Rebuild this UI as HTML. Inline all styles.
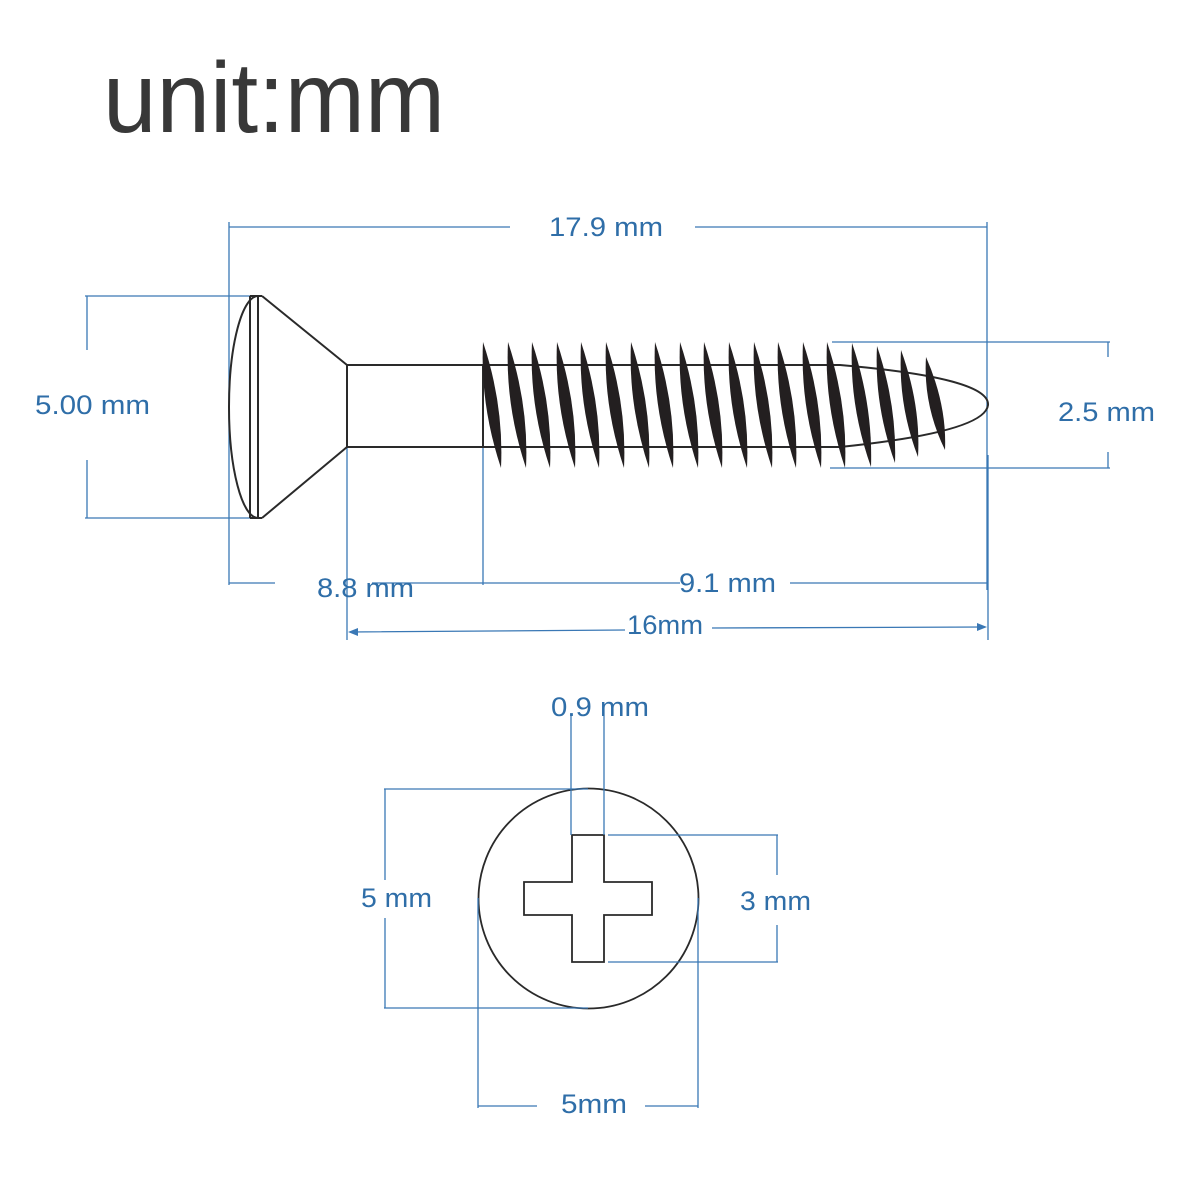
<!DOCTYPE html>
<html><head><meta charset="utf-8"><style>
html,body{margin:0;padding:0;background:#fff;width:1200px;height:1200px;overflow:hidden}
svg{display:block}
.b{stroke:#3a78b5;stroke-width:1.3;fill:none}
.k{stroke:#2a2a2a;stroke-width:2;fill:none}
.t{font-family:"Liberation Sans",sans-serif;font-size:27px;fill:#2f6ea8}
.th{fill:#231f20}
</style></head><body>
<svg width="1200" height="1200" viewBox="0 0 1200 1200" xmlns="http://www.w3.org/2000/svg">
<rect width="1200" height="1200" fill="#fff"/>
<text x="103" y="132" font-family="Liberation Sans, sans-serif" font-size="100" fill="#383838" textLength="342" lengthAdjust="spacingAndGlyphs">unit:mm</text>

<path class="b" d="M229,227 H510 M695,227 H987 M229,222 V585 M987,222 V590"/>
<text class="t" x="549" y="236" textLength="114" lengthAdjust="spacingAndGlyphs">17.9 mm</text>
<path class="b" d="M85,296 H255 M85,518 H255 M87,296 V350 M87,460 V518"/>
<text class="t" x="35" y="414" textLength="115" lengthAdjust="spacingAndGlyphs">5.00 mm</text>
<path class="b" d="M832,342 H1110 M830,468 H1110 M1108,342 V357 M1108,452 V468"/>
<text class="t" x="1058" y="421" textLength="97" lengthAdjust="spacingAndGlyphs">2.5 mm</text>
<path class="b" d="M229,583 H275 M372,583 H680 M790,583 H987 M347,447 V640 M483,447 V585 M988,455 V640"/>
<text class="t" x="317" y="597" textLength="97" lengthAdjust="spacingAndGlyphs">8.8 mm</text>
<text class="t" x="679" y="592" textLength="97" lengthAdjust="spacingAndGlyphs">9.1 mm</text>
<path class="b" d="M350,632 L625,630 M712,628 L985,627"/>
<path d="M348,632 l10,-4 v8 z M987,627 l-10,-4 v8 z" fill="#3a78b5"/>
<text class="t" x="627" y="634" textLength="76" lengthAdjust="spacingAndGlyphs">16mm</text>

<path class="k" d="M258,296 A29,111 0 0 0 258,518"/>
<path class="k" d="M250,296 V518 M258,296 V518 M250,296 H262 M250,518 H262"/>
<path class="k" d="M262,296 L347,365 M262,518 L347,447 M347,365 V447"/>
<path class="k" d="M347,365 H840 Q990,378 988,405 Q985,432 840,447 H347"/>
<path class="k" d="M483,365 V447"/>

<g class="th">
<path d="M483,342 Q504,405 501,468 Q480,405 483,342Z"/>
<path d="M508,342 Q529,405 526,468 Q505,405 508,342Z"/>
<path d="M532,342 Q553,405 550,468 Q529,405 532,342Z"/>
<path d="M557,342 Q578,405 575,468 Q554,405 557,342Z"/>
<path d="M581,342 Q602,405 599,468 Q578,405 581,342Z"/>
<path d="M606,342 Q627,405 624,468 Q603,405 606,342Z"/>
<path d="M631,342 Q652,405 649,468 Q628,405 631,342Z"/>
<path d="M655,342 Q676,405 673,468 Q652,405 655,342Z"/>
<path d="M680,342 Q701,405 698,468 Q677,405 680,342Z"/>
<path d="M704,342 Q725,405 722,468 Q701,405 704,342Z"/>
<path d="M729,342 Q750,405 747,468 Q726,405 729,342Z"/>
<path d="M754,342 Q775,405 772,468 Q751,405 754,342Z"/>
<path d="M778,342 Q799,405 796,468 Q775,405 778,342Z"/>
<path d="M803,342 Q824,405 821,468 Q800,405 803,342Z"/>
<path d="M827,342 Q848,405 845,468 Q824,405 827,342Z"/>
<path d="M852,343 Q873,405 871,467 Q849,405 852,343Z"/>
<path d="M877,346 Q897,405 895,463 Q874,405 877,346Z"/>
<path d="M901,350 Q921,405 918,457 Q898,405 901,350Z"/>
<path d="M926,357 Q947,405 945,450 Q923,405 926,357Z"/>
</g>

<circle class="k" cx="588.5" cy="898.5" r="110" style="stroke-width:1.8"/>
<path class="k" style="stroke-width:1.8" d="M572,835 H604 V882 H652 V915 H604 V962 H572 V915 H524 V882 H572 Z"/>
<path class="b" d="M571,716 V835 M604,716 V835"/>
<text class="t" x="551" y="716" textLength="98" lengthAdjust="spacingAndGlyphs">0.9 mm</text>
<path class="b" d="M608,835 H778 M608,962 H778 M777,835 V875 M777,925 V962"/>
<text class="t" x="740" y="910" textLength="71" lengthAdjust="spacingAndGlyphs">3 mm</text>
<path class="b" d="M384,789 H588 M384,1008 H588 M385,789 V880 M385,918 V1008"/>
<text class="t" x="361" y="907" textLength="71" lengthAdjust="spacingAndGlyphs">5 mm</text>
<path class="b" d="M478,898 V1108 M698,898 V1108 M478,1106 H537 M645,1106 H698"/>
<text class="t" x="561" y="1113" textLength="66" lengthAdjust="spacingAndGlyphs">5mm</text>
</svg>
</body></html>
